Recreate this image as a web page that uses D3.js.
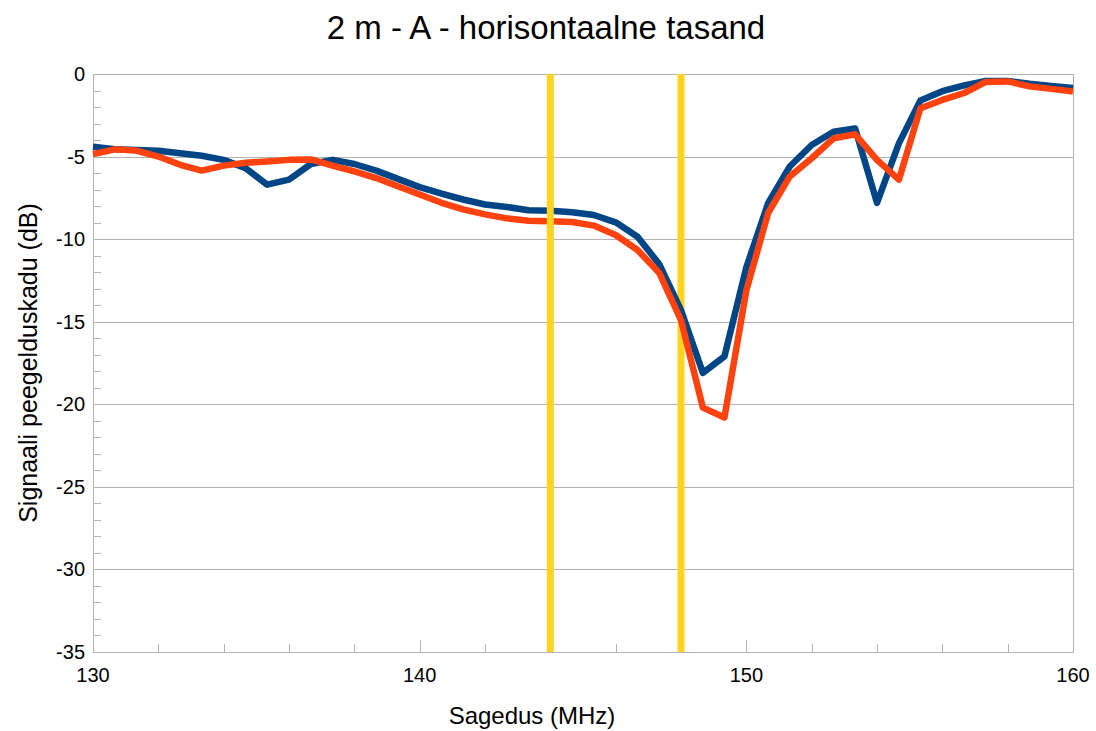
<!DOCTYPE html>
<meta charset="utf-8">
<style>
body { margin: 0; background: #fff; }
text { font-family: "Liberation Sans", Arial, sans-serif; fill: #000; }
.frame { fill: none; stroke: #b3b3b3; stroke-width: 1px; shape-rendering: crispEdges; }
.grid line { stroke: #b3b3b3; stroke-width: 1px; shape-rendering: crispEdges; }
.grid path { stroke-width: 0; }
.tick-in line { stroke: #b3b3b3; shape-rendering: crispEdges; }
.tick-in path { stroke-width: 0; }
.line { fill: none; stroke-width: 6.5px; stroke-linejoin: round; }
.marker { stroke: #ffd320; stroke-width: 7px; }
</style>
<body>
<script src="https://d3js.org/d3.v7.min.js"></script>
<script>

// frequencies (MHz)
var freq = [130, 130.67, 131.33, 132, 132.67, 133.33, 134, 134.67, 135.33, 136,
            136.67, 137.33, 138, 138.67, 139.33, 140, 140.67, 141.33, 142, 142.67,
            143.33, 144, 144.67, 145.33, 146, 146.67, 147.33, 148, 148.67, 149.33,
            150, 150.67, 151.33, 152, 152.67, 153.33, 154, 154.67, 155.33, 156,
            156.67, 157.33, 158, 158.67, 159.33, 160];

// blue series (dB)
var blue = [-4.4, -4.55, -4.6, -4.65, -4.8, -4.95, -5.2, -5.7, -6.7, -6.4,
            -5.45, -5.2, -5.45, -5.85, -6.35, -6.85, -7.25, -7.6, -7.9, -8.05,
            -8.25, -8.28, -8.37, -8.54, -8.98, -9.85, -11.5, -14.3, -18.1, -17.1,
            -11.7, -7.8, -5.6, -4.3, -3.5, -3.3, -7.8, -4.2, -1.6, -1.04,
            -0.69, -0.42, -0.42, -0.59, -0.72, -0.84];

// orange series (dB)
var orange = [-4.85, -4.56, -4.64, -5.0, -5.5, -5.85, -5.55, -5.37, -5.3, -5.2,
              -5.17, -5.55, -5.9, -6.3, -6.8, -7.3, -7.8, -8.2, -8.5, -8.74,
              -8.88, -8.92, -8.96, -9.18, -9.75, -10.66, -12.03, -14.9, -20.2, -20.8,
              -13.1, -8.4, -6.2, -5.1, -3.9, -3.65, -5.2, -6.4, -2.07, -1.57,
              -1.15, -0.48, -0.45, -0.75, -0.9, -1.06];

// vertical band edges (MHz)
var markers = [144, 148];

var xTicks = [130, 140, 150, 160];
var yTicks = [0, -5, -10, -15, -20, -25, -30, -35];

var W = 1096, H = 731;
var margin = {top: 74, right: 23, bottom: 79, left: 93},
    width = W - margin.left - margin.right,
    height = H - margin.top - margin.bottom;

var x = d3.scaleLinear().domain([130, 160]).range([0, width]);
var y = d3.scaleLinear().domain([-35, 0]).range([height, 0]);

var svg = d3.select("body").append("svg")
    .attr("width", W)
    .attr("height", H);

var g = svg.append("g")
    .attr("transform", "translate(" + margin.left + "," + margin.top + ")");

// horizontal gridlines
g.append("g")
    .attr("class", "grid")
    .call(d3.axisLeft(y).tickValues(yTicks).tickSize(-width).tickFormat(""));

// minor ticks on the y axis (inside)
g.append("g")
    .attr("class", "tick-in")
    .call(d3.axisRight(y).tickValues(d3.range(-35, 1, 1)).tickSize(8).tickFormat(""));

// minor and major ticks on the x axis (inside)
g.append("g")
    .attr("class", "tick-in")
    .attr("transform", "translate(0," + height + ")")
    .call(d3.axisTop(x).tickValues(d3.range(130, 161, 2)).tickSize(8).tickFormat(""));
g.append("g")
    .attr("class", "tick-in")
    .attr("transform", "translate(0," + height + ")")
    .call(d3.axisTop(x).tickValues(xTicks).tickSize(12).tickFormat(""));

// frame
g.append("rect")
    .attr("class", "frame")
    .attr("x", 0).attr("y", 0)
    .attr("width", width).attr("height", height);

// y tick labels
g.selectAll(".ylab")
    .data(yTicks)
  .enter().append("text")
    .attr("class", "ylab")
    .attr("x", -8)
    .attr("y", function(d) { return y(d); })
    .attr("dy", "0.35em")
    .attr("text-anchor", "end")
    .style("font-size", "20px")
    .text(function(d) { return d; });

// x tick labels
g.selectAll(".xlab")
    .data(xTicks)
  .enter().append("text")
    .attr("class", "xlab")
    .attr("x", function(d) { return x(d); })
    .attr("y", height + 30)
    .attr("text-anchor", "middle")
    .style("font-size", "20px")
    .text(function(d) { return d; });

var line = d3.line()
    .x(function(d) { return x(d[0]); })
    .y(function(d) { return y(d[1]); });

// 148 MHz marker sits below the curves
g.append("line")
    .attr("class", "marker")
    .attr("x1", x(markers[1])).attr("x2", x(markers[1]))
    .attr("y1", y(0)).attr("y2", y(-35));

g.append("path")
    .datum(d3.zip(freq, blue))
    .attr("class", "line")
    .style("stroke", "#004586")
    .attr("d", line);

g.append("path")
    .datum(d3.zip(freq, orange))
    .attr("class", "line")
    .style("stroke", "#ff420e")
    .attr("d", line);

// 144 MHz marker on top
g.append("line")
    .attr("class", "marker")
    .attr("x1", x(markers[0])).attr("x2", x(markers[0]))
    .attr("y1", y(0)).attr("y2", y(-35));

// title
svg.append("text")
    .attr("x", 546)
    .attr("y", 39)
    .attr("text-anchor", "middle")
    .style("font-size", "33px")
    .text("2 m - A - horisontaalne tasand");

// axis titles
svg.append("text")
    .attr("x", 532)
    .attr("y", 724)
    .attr("text-anchor", "middle")
    .style("font-size", "24px")
    .text("Sagedus (MHz)");

svg.append("text")
    .attr("transform", "translate(37," + (margin.top + height / 2) + ") rotate(-90)")
    .attr("text-anchor", "middle")
    .style("font-size", "25px")
    .text("Signaali peegelduskadu (dB)");

</script>
</body>
